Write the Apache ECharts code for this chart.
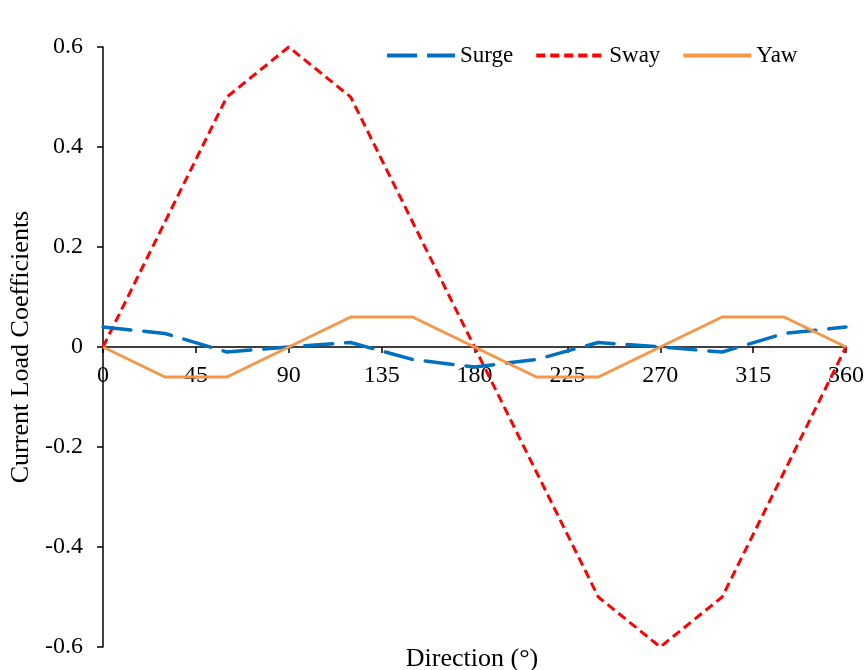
<!DOCTYPE html>
<html><head><meta charset="utf-8">
<script src="https://cdn.jsdelivr.net/npm/echarts@6/dist/echarts.min.js"></script>
<style>html,body{margin:0;padding:0;background:#fff}#c{width:864px;height:670px}</style>
</head><body><div id="c"></div>
<script>
const directions = [0,30,60,90,120,150,180,210,240,270,300,330,360];
const surge = [0.04,0.027,-0.01,0,0.009,-0.025,-0.04,-0.025,0.009,0,-0.01,0.027,0.04];
const sway  = [0,0.25,0.5,0.6,0.5,0.25,0,-0.25,-0.5,-0.6,-0.5,-0.25,0];
const yaw   = [0,-0.06,-0.06,0,0.06,0.06,0,-0.06,-0.06,0,0.06,0.06,0];
const xTicks = [0,45,90,135,180,225,270,315,360];
const yTicks = [-0.6,-0.4,-0.2,0,0.2,0.4,0.6];

const font = '"Liberation Serif","Times New Roman",serif';
const pair = arr => directions.map((d,i)=>[d,arr[i]]);
const chart = echarts.init(document.getElementById('c'));
chart.setOption({
  animation:false,
  textStyle:{fontFamily:font},
  grid:{left:103,right:18,top:47,bottom:23,containLabel:false,outerBoundsMode:'none'},
  title:{text:'Direction (°)',left:467,top:641,textAlign:'center',
    textStyle:{fontFamily:font,fontSize:26,fontWeight:'normal',color:'#000'}},
  legend:{top:39,left:382,itemWidth:68,itemHeight:4,itemGap:23,
    textStyle:{fontFamily:font,fontSize:23,color:'#000',padding:[0,0,0,0]},
    data:[
      {name:'Surge',icon:'path://M0,0h30v4h-30z M40,0h28v4h-28z',itemStyle:{color:'#0070C0'}},
      {name:'Sway',icon:'path://M0,0h9v4h-9z M14,0h9v4h-9z M28,0h9v4h-9z M42,0h9v4h-9z M56,0h9v4h-9z M68,0h0v4h0z',itemStyle:{color:'#FF0000'}},
      {name:'Yaw',icon:'path://M0,0h68v4h-68z',itemStyle:{color:'#F79646'}}
    ]},
  xAxis:{type:'value',min:0,max:360,interval:45,position:'bottom',offset:-300,
    axisLine:{onZero:false,lineStyle:{color:'#000',width:1.5}},
    axisTick:{show:true,length:6,inside:false,lineStyle:{color:'#000',width:1.5}},
    axisLabel:{fontFamily:font,fontSize:24,color:'#000',margin:17,
      customValues:xTicks},
    splitLine:{show:false}},
  yAxis:{type:'value',min:-0.6,max:0.6,interval:0.2,
    name:'Current Load Coefficients',nameLocation:'middle',nameGap:67,
    nameTextStyle:{fontFamily:font,fontSize:26,color:'#000'},
    axisLine:{show:true,lineStyle:{color:'#000',width:1.5}},
    axisTick:{show:true,length:6,lineStyle:{color:'#000',width:1.5}},
    axisLabel:{fontFamily:font,fontSize:24,color:'#000',margin:20,
      formatter:v=>{const r=Math.round(v*10)/10; return r===0?'0':r.toFixed(1);}},
    splitLine:{show:false}},
  series:[
    {name:'Surge',type:'line',data:pair(surge),symbol:'none',z:3,
      lineStyle:{color:'#0070C0',width:3.5,type:[28,13],cap:'round'},itemStyle:{color:'#0070C0'}},
    {name:'Sway',type:'line',data:pair(sway),symbol:'none',z:2,
      lineStyle:{color:'#FF0000',width:3,type:[9,5]},itemStyle:{color:'#FF0000'}},
    {name:'Yaw',type:'line',data:pair(yaw),symbol:'none',z:4,
      lineStyle:{color:'#F79646',width:3},itemStyle:{color:'#F79646'}}
  ]
});
</script></body></html>
